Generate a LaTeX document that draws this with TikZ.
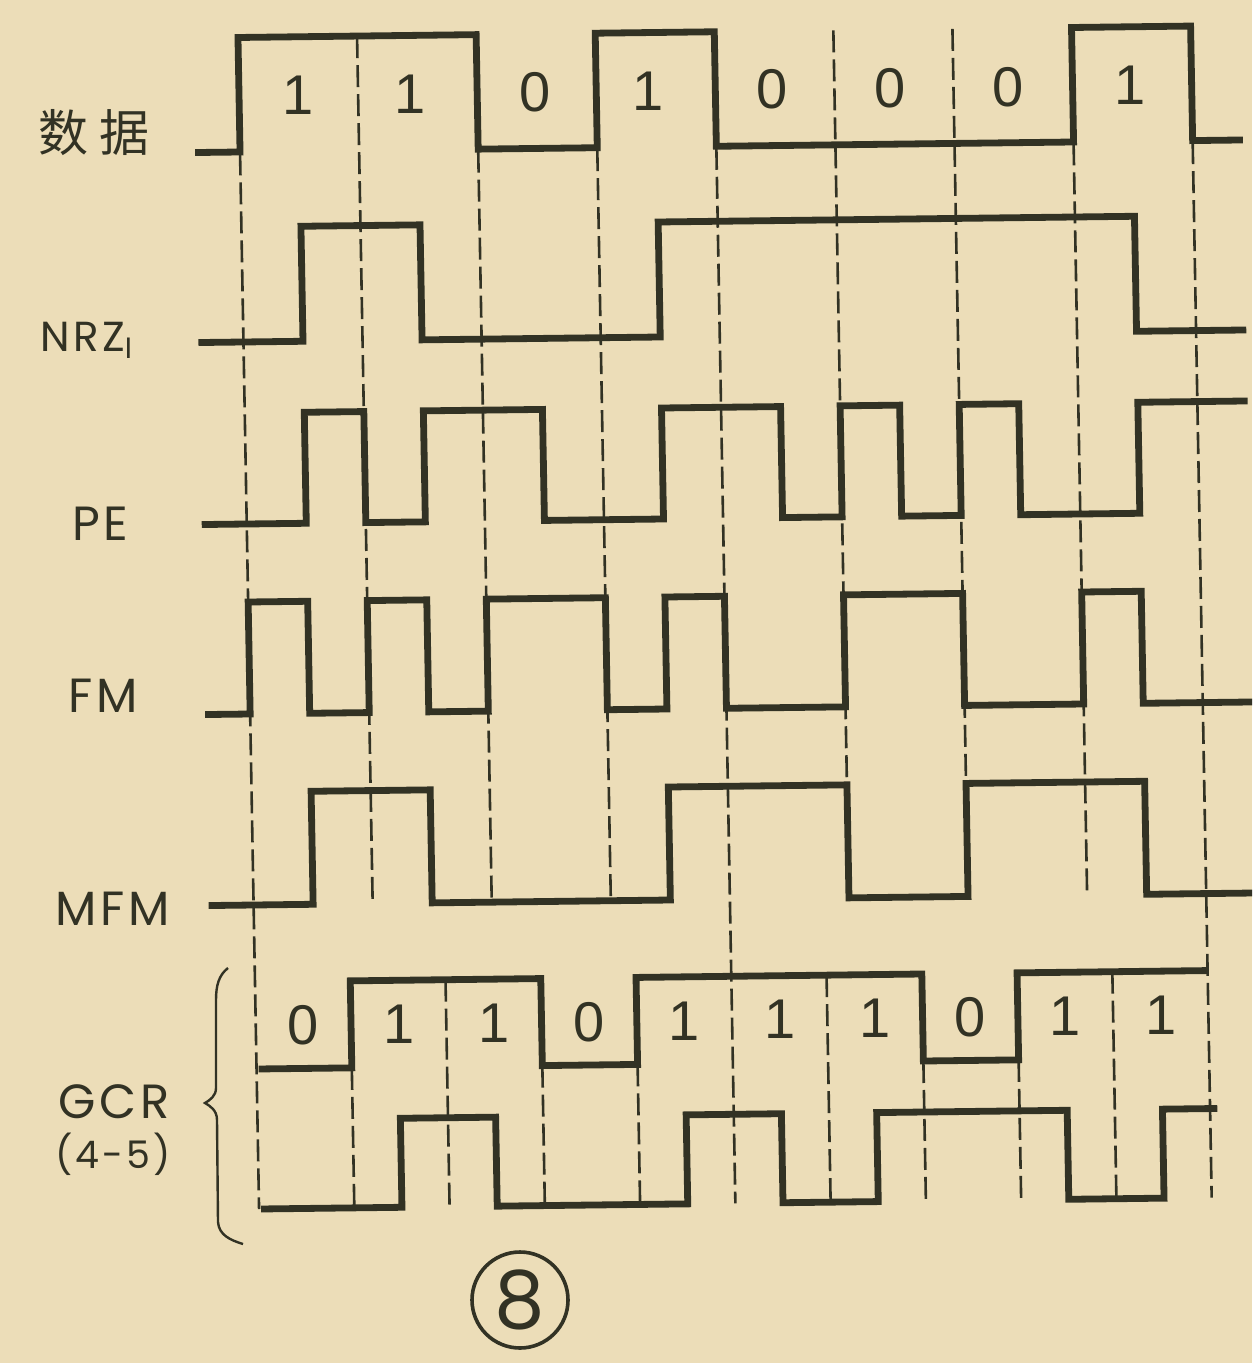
\documentclass[tikz,border=0pt]{standalone}
\usepackage{fontspec}
\setmainfont{Liberation Sans}
\newfontfamily\cjkfont{Noto Sans CJK SC}
\newfontfamily\labfont[LetterSpace=8]{Poppins}
\newfontfamily\numfont{Poppins}
\newfontfamily\bitfont{Liberation Sans}
\definecolor{paper}{RGB}{236,221,184}
\definecolor{ink}{RGB}{50,50,36}
\begin{document}
\begin{tikzpicture}[x=0.5pt,y=-0.5pt,
  sig/.style={draw=ink,line width=3.4pt,line join=miter},
  gridline/.style={draw=ink,line width=1.3pt,dash pattern=on 11pt off 3.5pt},
  bit/.style={text=ink,font=\bitfont\fontsize{28}{28}\selectfont,inner sep=0pt},
  lab/.style={text=ink,font=\labfont\fontsize{24}{24}\selectfont,inner sep=0pt,anchor=base west},
]
\useasboundingbox (0,0) rectangle (1252,1363);
\clip (0,0) rectangle (1252,1363);
\fill[paper] (0,0) rectangle (1252,1363);

\begin{scope}[shift={(240,150)},xslant=-0.018,yslant=0.012,shift={(-240,-150)}]
  % dashed bit-cell boundaries
  \foreach \x in {240,716.4,1192.8} \draw[gridline] (\x,37.5) -- (\x,1209);
  \foreach \x in {359.1,478.2,597.3,835.5,954.6,1073.7} \draw[gridline] (\x,37.5) -- (\x,905);
  \foreach \x in {335.28,430.56,525.84,621.12,811.68,906.96,1002.24,1097.52} \draw[gridline] (\x,982) -- (\x,1209);

  % data
  \draw[sig] (195,152) -- (240,152) -- (240,37.5) -- (478.2,37.5) -- (478.2,152) -- (597.3,152) -- (597.3,37.5) -- (716.4,37.5) -- (716.4,152) -- (1073.7,152) -- (1073.7,37.5) -- (1192.8,37.5) -- (1192.8,152) -- (1243,152);
  % NRZI
  \draw[sig] (195,342) -- (299.55,342) -- (299.55,227) -- (418.65,227) -- (418.65,342) -- (656.85,342) -- (656.85,227) -- (1133.25,227) -- (1133.25,342) -- (1243,342);
  % PE
  \draw[sig] (195,524) -- (299.55,524) -- (299.55,413) -- (359.1,413) -- (359.1,524) -- (418.65,524) -- (418.65,413) -- (537.75,413) -- (537.75,524) -- (656.85,524) -- (656.85,413) -- (775.95,413) -- (775.95,524) -- (835.5,524) -- (835.5,413) -- (895.05,413) -- (895.05,524) -- (954.6,524) -- (954.6,413) -- (1014.15,413) -- (1014.15,524) -- (1133.25,524) -- (1133.25,413) -- (1243,413);
  % FM
  \draw[sig] (195,714) -- (240,714) -- (240,602) -- (299.55,602) -- (299.55,714) -- (359.1,714) -- (359.1,602) -- (418.65,602) -- (418.65,714) -- (478.2,714) -- (478.2,602) -- (597.3,602) -- (597.3,714) -- (656.85,714) -- (656.85,602) -- (716.4,602) -- (716.4,714) -- (835.5,714) -- (835.5,602) -- (954.6,602) -- (954.6,714) -- (1073.7,714) -- (1073.7,602) -- (1133.25,602) -- (1133.25,714) -- (1243,714);
  % MFM
  \draw[sig] (195,905) -- (299.55,905) -- (299.55,792) -- (418.65,792) -- (418.65,905) -- (656.85,905) -- (656.85,792) -- (835.5,792) -- (835.5,905) -- (954.6,905) -- (954.6,792) -- (1133.25,792) -- (1133.25,905) -- (1250,905);
  % GCR code bits
  \draw[sig] (242,1069) -- (335.28,1069) -- (335.28,982) -- (525.84,982) -- (525.84,1069) -- (621.12,1069) -- (621.12,982) -- (906.96,982) -- (906.96,1069) -- (1002.24,1069) -- (1002.24,982) -- (1192.8,982);
  % GCR recorded
  \draw[sig] (242,1209) -- (382.92,1209) -- (382.92,1120) -- (478.2,1120) -- (478.2,1209) -- (668.76,1209) -- (668.76,1120) -- (764.04,1120) -- (764.04,1209) -- (859.32,1209) -- (859.32,1120) -- (1049.88,1120) -- (1049.88,1209) -- (1145.16,1209) -- (1145.16,1120) -- (1200,1120);

  % bit labels
  \foreach \x/\t [count=\i] in {299/1,411/1,536/0,649/1,773/0,891/0,1009/0,1131/1}
    \node[bit] (db\i) at (\x,96) {\t};
  \foreach \x/\t [count=\i] in {287.64/0,382.92/1,478.2/1,573.48/0,668.76/1,764.04/1,859.32/1,954.6/0,1049.88/1,1145.16/1}
    \node[bit] (gb\i) at (\x,1026) {\t};
\end{scope}

% row labels
\node[text=ink,font=\cjkfont\fontsize{25}{25}\selectfont,inner sep=0pt] (lblData) at (94,133) {数\hspace{5pt}据};
\node[lab,font=\labfont\fontsize{21}{21}\selectfont] (lblNRZ) at (40,352) {NRZ\textsubscript{I}};
\node[lab] (lblPE) at (72,540) {PE};
\node[lab] (lblFM) at (68,712) {FM};
\node[lab] (lblMFM) at (55,925) {MFM};
\node[lab] (lblGCR) at (58,1118) {GCR};
\node[lab,font=\labfont\fontsize{19}{19}\selectfont] (lblGCRsub) at (55,1168) {(4-5)};

% brace
\draw[ink,line width=1.2pt] (228,968) .. controls (219,975) and (216,985) .. (216,1000) -- (216,1088) .. controls (216,1096) and (210,1100) .. (205,1103) .. controls (210,1106) and (217,1110) .. (217,1120) -- (218,1222) .. controls (219,1235) and (230,1240) .. (243,1244);

% figure number
\node[draw=ink,line width=1.8pt,circle,minimum size=48pt,inner sep=0pt,text=ink,font=\numfont\fontsize{40}{40}\selectfont] (fignum) at (520,1300) {8};
\end{tikzpicture}
\end{document}
